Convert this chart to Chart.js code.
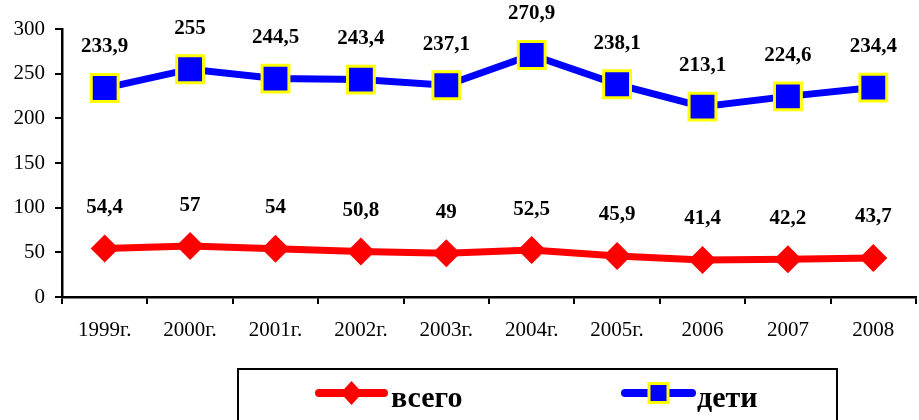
<!DOCTYPE html>
<html>
<head>
<meta charset="utf-8">
<script src="https://cdn.jsdelivr.net/npm/chart.js@4/dist/chart.umd.min.js"></script>
<style>
  html, body { margin: 0; padding: 0; background: #fff; }
  canvas { display: block; }
</style>
</head>
<body>
<canvas id="chart" width="919" height="420"></canvas>
<script>
// Years on the category axis
const years = ['1999г.', '2000г.', '2001г.', '2002г.', '2003г.', '2004г.', '2005г.', '2006', '2007', '2008'];
// "всего" series
const totalValues = [54.4, 57, 54, 50.8, 49, 52.5, 45.9, 41.4, 42.2, 43.7];
// "дети" series
const childValues = [233.9, 255, 244.5, 243.4, 237.1, 270.9, 238.1, 213.1, 224.6, 234.4];
const seriesNames = ['всего', 'дети'];
// Value axis range
const yMin = 0;
const yMax = 300;
const yStep = 50;

const SERIF = '"Liberation Serif", "Times New Roman", serif';

// Value labels above each point, with a decimal comma
const valueLabels = {
  id: 'valueLabels',
  afterDatasetsDraw(chart) {
    const ctx = chart.ctx;
    ctx.save();
    ctx.font = 'bold 21px ' + SERIF;
    ctx.fillStyle = '#000';
    ctx.textAlign = 'center';
    ctx.textBaseline = 'middle';
    chart.data.datasets.forEach((ds, i) => {
      const meta = chart.getDatasetMeta(i);
      meta.data.forEach((pt, j) => {
        const text = String(ds.data[j]).replace('.', ',');
        ctx.fillText(text, pt.x, pt.y - 41);
      });
    });
    ctx.restore();
  }
};

// Framed legend under the axis
const boxedLegend = {
  id: 'boxedLegend',
  afterDraw(chart) {
    const ctx = chart.ctx;
    ctx.save();
    ctx.strokeStyle = '#000';
    ctx.lineWidth = 2;
    ctx.strokeRect(238, 369, 599, 70);

    const items = [
      { ds: chart.data.datasets[0], x0: 319, x1: 384, tx: 391 },
      { ds: chart.data.datasets[1], x0: 625, x1: 692, tx: 697 }
    ];
    const ly = 393;
    items.forEach(it => {
      const ds = it.ds;
      ctx.beginPath();
      ctx.strokeStyle = ds.borderColor;
      ctx.lineWidth = 8;
      ctx.lineCap = 'round';
      ctx.moveTo(it.x0, ly);
      ctx.lineTo(it.x1, ly);
      ctx.stroke();
      const cx = (it.x0 + it.x1) / 2;
      ctx.fillStyle = ds.pointBackgroundColor;
      if (ds.pointStyle === 'rectRot') {
        ctx.beginPath();
        ctx.moveTo(cx, ly - 12);
        ctx.lineTo(cx + 11, ly);
        ctx.lineTo(cx, ly + 12);
        ctx.lineTo(cx - 11, ly);
        ctx.closePath();
        ctx.fill();
      } else {
        ctx.fillRect(cx - 9.5, ly - 9.5, 19, 19);
        ctx.strokeStyle = ds.pointBorderColor;
        ctx.lineWidth = 3;
        ctx.strokeRect(cx - 9.5, ly - 9.5, 19, 19);
      }
      ctx.fillStyle = '#000';
      ctx.font = 'bold 30px ' + SERIF;
      ctx.textAlign = 'left';
      ctx.textBaseline = 'alphabetic';
      ctx.fillText(ds.label, it.tx, 407);
    });
    ctx.restore();
  }
};

function build() {
  new Chart(document.getElementById('chart'), {
    type: 'line',
    data: {
      labels: years,
      datasets: [
        {
          label: seriesNames[0],
          data: totalValues,
          borderColor: '#ff0000',
          borderWidth: 7,
          pointStyle: 'rectRot',
          pointRadius: 14,
          pointHoverRadius: 14,
          pointBackgroundColor: '#ff0000',
          pointBorderColor: '#ff0000',
          pointBorderWidth: 0,
          tension: 0,
          clip: false
        },
        {
          label: seriesNames[1],
          data: childValues,
          borderColor: '#0000ff',
          borderWidth: 7,
          pointStyle: 'rect',
          pointRadius: 19,
          pointHoverRadius: 19,
          pointBackgroundColor: '#0000ff',
          pointBorderColor: '#ffff00',
          pointBorderWidth: 3,
          tension: 0,
          clip: false
        }
      ]
    },
    options: {
      responsive: false,
      animation: false,
      events: [],
      layout: {
        autoPadding: false,
        padding: { top: 29, right: 3, left: 0, bottom: 0 }
      },
      plugins: {
        legend: { display: false },
        tooltip: { enabled: false }
      },
      scales: {
        x: {
          type: 'category',
          offset: true,
          grid: {
            display: true,
            offset: true,
            drawOnChartArea: false,
            drawTicks: true,
            tickLength: 7,
            color: '#000',
            lineWidth: 2
          },
          border: { display: true, color: '#000', width: 2.5 },
          ticks: {
            color: '#000',
            font: { family: SERIF, size: 21 },
            padding: 14,
            maxRotation: 0,
            autoSkip: false
          },
          afterFit(scale) {
            scale.height = 123;
            scale.paddingLeft = 0;
            scale.paddingRight = 0;
          }
        },
        y: {
          min: yMin,
          max: yMax,
          grid: {
            display: true,
            drawOnChartArea: false,
            drawTicks: true,
            tickLength: 7,
            color: '#000',
            lineWidth: 2
          },
          border: { display: true, color: '#000', width: 2.5 },
          ticks: {
            stepSize: yStep,
            color: '#000',
            font: { family: SERIF, size: 21 },
            padding: 10
          },
          afterFit(scale) {
            scale.width = 62;
            scale.paddingTop = 0;
            scale.paddingBottom = 0;
          }
        }
      }
    },
    plugins: [valueLabels, boxedLegend]
  });
}

Promise.all([
  document.fonts.load('21px "Liberation Serif"'),
  document.fonts.load('bold 21px "Liberation Serif"')
]).then(build, build);
</script>
</body>
</html>
